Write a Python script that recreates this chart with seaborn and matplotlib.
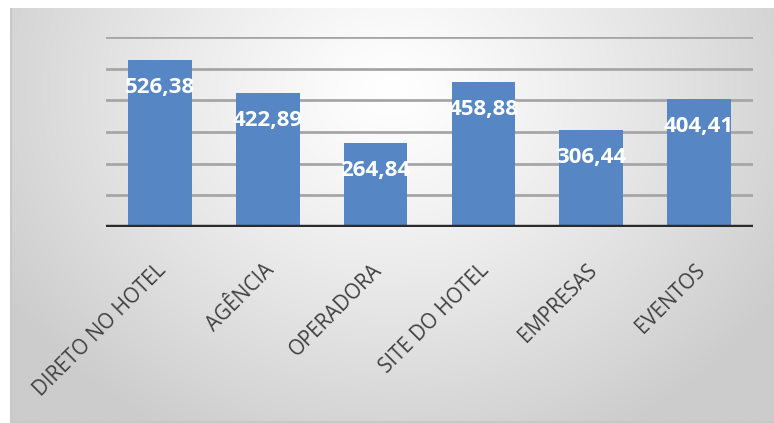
import numpy as np
import pandas as pd
import matplotlib
matplotlib.use("Agg")
import matplotlib.pyplot as plt
import matplotlib.transforms as mtransforms
import seaborn as sns

categories = ["DIRETO NO HOTEL", "AGÊNCIA", "OPERADORA", "SITE DO HOTEL", "EMPRESAS", "EVENTOS"]
values = [526.38, 422.89, 264.84, 458.88, 306.44, 404.41]
y_ticks = [0, 100, 200, 300, 400, 500, 600]

df = pd.DataFrame({"cat": categories, "val": values})

sns.set_theme(style="white")
plt.rcParams["font.family"] = ["Open Sans", "DejaVu Sans"]

W, H, DPI = 774, 423, 100
fig = plt.figure(figsize=(W / DPI, H / DPI), dpi=DPI)
fig.patch.set_facecolor("white")

# gradient background panel
bg = fig.add_axes([10 / W, 0, 1 - 10 / W, (H - 8) / H])
bg.set_axis_off()
nx, ny = 400, 220
xx, yy = np.meshgrid(np.linspace(0, 1, nx), np.linspace(0, 1, ny))
r = np.sqrt(((xx - 0.5) / 0.6) ** 2 + ((yy - 0.2) / 0.95) ** 2)
r = np.clip(r, 0, 1)
lo, hi = 0.80, 1.0
val = hi - (hi - lo) * r ** 1.2
img = np.dstack([val, val, val])
bg.imshow(img, aspect="auto", extent=[0, 1, 1, 0], interpolation="bilinear")
bg.set_xlim(0, 1)
bg.set_ylim(1, 0)
bg.plot([0, 1], [0.002, 0.002], color="#c8c8c8", lw=1.5, transform=bg.transAxes)
bg.plot([0.001, 0.001], [0, 1], color="#c8c8c8", lw=1.5, transform=bg.transAxes)

ax = fig.add_axes([106 / W, (H - 227) / H, (753 - 106) / W, (227 - 37) / H])
ax.set_facecolor("none")
sns.barplot(data=df, x="cat", y="val", color="#5686C4", width=0.59, saturation=1,
            linewidth=0, edgecolor="none", ax=ax, zorder=3)
ax.set_ylim(0, 600)
ax.set_xlim(-0.5, 5.5)
ax.set_yticks(y_ticks)
ax.set_yticklabels([])
ax.tick_params(axis="y", length=0)
for t in y_ticks[1:]:
    ax.axhline(t, color="#a6a6a6", lw=2.0, zorder=1)
ax.axhline(0, color="#2b2b2b", lw=3.2, zorder=4)
for s in ax.spines.values():
    s.set_visible(False)
ax.set_xlabel("")
ax.set_ylabel("")

for i, v in enumerate(values):
    ax.annotate(f"{v:.2f}".replace(".", ","), xy=(i, v), xytext=(0, -27.5 * 72 / DPI),
                textcoords="offset points", ha="center", va="center",
                color="white", fontweight="bold", fontsize=16, zorder=5)

ax.set_xticks(range(len(categories)))
ax.set_xticklabels(categories, rotation=45, ha="right", va="center",
                   rotation_mode="anchor", fontsize=14.8, color="#404040")
ax.tick_params(axis="x", length=0, pad=0)
off = mtransforms.ScaledTranslation(3 / DPI, -40 / DPI, fig.dpi_scale_trans)
for lab in ax.get_xticklabels():
    lab.set_transform(lab.get_transform() + off)

fig.savefig("out.png", dpi=DPI)
